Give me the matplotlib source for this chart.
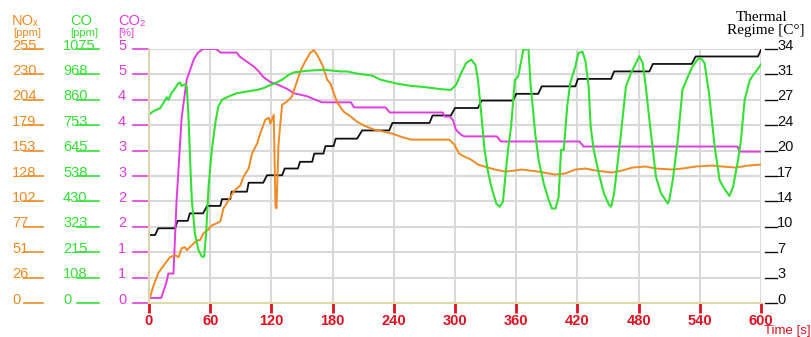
import matplotlib
matplotlib.use("Agg")
import matplotlib.pyplot as plt
import matplotlib.transforms as mtransforms

plt.rcParams['font.family'] = ['Liberation Sans', 'DejaVu Sans']

# data (time in s)
co2_t = [0, 12, 17, 19, 24, 27, 32, 37, 44, 48, 53, 66, 70, 86, 89, 96, 103, 108, 112,
         119, 126, 135, 142, 155, 162, 170, 172, 198, 201, 232, 236, 288, 290, 295, 298,
         301, 306, 309, 341, 345, 422, 426, 577, 579, 600]
co2_pct = [0.1, 0.1, 0.4, 0.58, 0.58, 2.0, 3.65, 4.4, 4.8, 4.93, 5.0, 5.0, 4.93, 4.93, 4.85,
           4.75, 4.65, 4.55, 4.45, 4.35, 4.3, 4.22, 4.13, 4.07, 4.01, 3.95, 3.95, 3.95, 3.85,
           3.85, 3.75, 3.75, 3.67, 3.67, 3.6, 3.41, 3.31, 3.28, 3.28, 3.18, 3.18, 3.08, 3.08,
           2.98, 2.98]

nox_t = [0, 4, 9, 16, 20.6, 25.6, 29, 32, 35.4, 37, 42, 47, 50, 53.4, 58.4, 61.6, 66.5, 70,
         73, 78, 83, 89.5, 92.8, 97.7, 101, 106, 109, 114, 117.4, 119, 122.3, 124, 125, 127,
         130.5, 135, 140, 143.6, 148.5, 153.4, 158, 161.6, 165, 170, 174.8, 178, 184.6, 191,
         198, 204, 211, 221, 230.5, 238.6, 247, 256.7, 270, 283, 294.4, 299.4, 304, 309,
         315.7, 322.5, 329, 339, 349, 359, 365, 381, 398, 408, 418, 428, 437.5, 454, 464,
         474, 487, 497, 513, 523, 536, 552.5, 562, 575, 588, 600]
nox_ppm = [2.5, 16, 30, 40, 46, 48, 46, 55, 56, 53, 58, 63, 63, 70, 74, 78, 80, 82, 95, 103,
           112, 118, 127, 135, 150, 160, 170, 184, 186, 180, 189, 97, 95, 160, 199, 202, 207,
           218, 233, 243, 251, 254, 249, 239, 224, 220, 201, 192, 187, 182, 178, 174, 172,
           170, 167, 164, 164, 164, 164, 159, 150, 147, 144, 139, 137, 134, 132, 133, 134,
           132, 129, 130, 134, 135, 133, 131, 133, 136, 137, 135, 134, 135, 137, 138, 137,
           136, 138, 139]

co_t = [0, 4, 11, 16, 17.4, 19, 22, 25.6, 29, 30.5,
        32, 35.4, 37, 38.7, 40.3, 42, 45, 48.5, 51.8, 54,
        56, 58.4, 61.6, 65, 68, 71.5, 78, 86, 96, 106,
        112, 117, 124, 130.5, 137, 142, 155, 171.5, 188, 194,
        204, 219, 227, 243.6, 256.7, 270, 286, 296, 301, 306,
        311, 316, 320, 322.5, 326, 329, 332, 335.6, 340.5, 343.8,
        347, 348.7, 352, 355, 358.7, 362, 367, 372, 374, 378.6,
        382, 387, 392, 395, 398.6, 401.6, 404, 406.6, 410, 413,
        418, 421, 425, 428, 431, 433, 436, 441, 446, 451,
        453, 456, 459, 462.7, 467.6, 472.5, 477.5, 480.7, 484, 487,
        490.6, 494, 497, 502, 508.6, 510, 513.5, 518.4, 523, 528.4,
        533, 538, 541, 544.6, 549, 554.6, 559.4, 563, 569, 572.6,
        577.5, 580, 584, 589, 596, 600]
co_ppm = [797, 811, 825, 860, 871, 860, 888, 909, 931, 933,
          919, 925, 917, 789, 605, 435, 295, 224, 196, 196,
          295, 492, 648, 761, 832, 860, 874, 888, 895, 902,
          909, 919, 931, 945, 966, 976, 983, 987, 980, 980,
          971, 962, 945, 928, 919, 914, 905, 902, 923, 973,
          1016, 1030, 1008, 945, 789, 648, 563, 492, 421, 407,
          429, 506, 648, 747, 945, 959, 1072, 1075, 931, 718,
          605, 506, 435, 400, 400, 449, 648, 648, 832, 931,
          1002, 1058, 1064, 1022, 917, 747, 648, 548, 464, 415,
          407, 464, 577, 718, 917, 973, 1016, 1044, 1016, 917,
          775, 648, 534, 464, 421, 435, 520, 690, 902, 959,
          1002, 1032, 1036, 1016, 888, 662, 520, 491, 453, 491,
          605, 677, 860, 944, 986, 1010]

th_t = [0, 6, 9, 25.6, 28, 38, 40, 53, 57, 70, 71.5, 79.7, 81, 96, 97.7, 112, 115.7, 130.5,
        133, 146, 148, 160, 162, 171, 173, 181, 183, 204, 209, 235.5, 238.6, 275, 278, 296,
        300, 322.5, 326, 357, 360, 381.6, 385, 418, 420.5, 453, 456, 490.6, 494, 532, 536,
        597, 600]
th_c = [9.1, 9.1, 10.0, 10.0, 11.0, 11.0, 12.0, 12.0, 13.0, 13.0, 13.9, 13.9, 14.9, 14.9,
        16.1, 16.1, 17.1, 17.1, 18.0, 18.0, 18.9, 18.9, 20.0, 20.0, 21.0, 21.0, 22.0, 22.0,
        23.1, 23.1, 24.1, 24.1, 25.1, 25.1, 26.1, 26.1, 27.1, 27.1, 28.0, 28.0, 29.0, 29.0,
        30.0, 30.0, 31.0, 31.0, 32.0, 32.0, 33.0, 33.0, 33.9]

x_ticks = [0, 60, 120, 180, 240, 300, 360, 420, 480, 540, 600]
nox_labels = ["0", "26", "51", "77", "102", "128", "153", "179", "204", "230", "255"]
co_labels = ["0", "108", "215", "323", "430", "538", "645", "753", "860", "968", "1075"]
co2_labels = ["0", "1", "1", "2", "2", "3", "3", "4", "4", "5", "5"]
th_labels = ["0", "3", "7", "10", "14", "17", "20", "24", "27", "31", "34"]

NOX_MAX, CO_MAX, CO2_MAX, TH_MAX = 255, 1075, 5, 34

ORANGE = "#f08a24"
GREEN = "#33e033"
MAGENTA = "#e03ce0"
RED = "#e01020"

W, H = 812, 337
fig = plt.figure(figsize=(W / 100, H / 100), dpi=100)
ax = fig.add_axes([149 / W, 34 / H, 612 / W, 254 / H])

ax.plot(th_t, [v / TH_MAX * 10 for v in th_c], color="#111111", lw=1.3)
ax.plot(co2_t, [v / CO2_MAX * 10 for v in co2_pct], color=MAGENTA, lw=1.4)
ax.plot(nox_t, [v / NOX_MAX * 10 for v in nox_ppm], color=ORANGE, lw=1.4)
ax.plot(co_t, [v / CO_MAX * 10 for v in co_ppm], color=GREEN, lw=1.5)

ax.set_xlim(0, 600)
ax.set_ylim(0, 10)
ax.set_xticks(x_ticks)
ax.set_xticklabels([str(v) for v in x_ticks], color=RED, fontweight="bold", fontsize=10.5)
ax.set_yticks(range(11))
ax.set_yticklabels([])
ax.tick_params(axis="x", colors=RED, length=7, width=2, direction="out", pad=1)
ax.tick_params(axis="y", length=0)
ax.grid(color="#d9d9d9", lw=1.5)
ax.set_axisbelow(True)
for s in ["top", "right"]:
    ax.spines[s].set_visible(False)
ax.spines["bottom"].set_color("#dcdca8")
ax.spines["left"].set_color("#dcd4b0")
ax.spines["bottom"].set_linewidth(1.5)
ax.spines["left"].set_linewidth(1.5)

# left/right scale columns
blend = mtransforms.blended_transform_factory(fig.transFigure, ax.transData)
cols = [
    (nox_labels, ORANGE, 12, 24, 43),
    (co_labels, GREEN, 63, 77, 99),
    (co2_labels, MAGENTA, 118, 133, 149),
]
for labels, c, tx, l0, l1 in cols:
    for i, lab in enumerate(labels):
        ax.text(tx / W, i - 0.02, lab, color=c, fontsize=10.5, ha="left", va="baseline",
                transform=blend, clip_on=False)
        ax.plot([l0 / W, l1 / W], [i, i], color=c, lw=1.2, transform=blend, clip_on=False)
for i, lab in enumerate(th_labels):
    ax.text(777 / W, i - 0.02, lab, color="#111111", fontsize=10.5, ha="left", va="baseline",
            transform=blend, clip_on=False)
    ax.plot([765 / W, 777 / W], [i, i], color="#111111", lw=1.0, transform=blend, clip_on=False)

# headers
fig.text(12 / W, 1 - 25 / H, "NOₓ", color=ORANGE, fontsize=10.5, va="baseline")
fig.text(13 / W, 1 - 36 / H, "[ppm]", color=ORANGE, fontsize=8, va="baseline")
fig.text(70 / W, 1 - 25 / H, "CO", color=GREEN, fontsize=10.5, va="baseline")
fig.text(70 / W, 1 - 36 / H, "[ppm]", color=GREEN, fontsize=8, va="baseline")
fig.text(118 / W, 1 - 25 / H, "CO₂", color=MAGENTA, fontsize=10.5, va="baseline")
fig.text(118 / W, 1 - 36 / H, "[%]", color=MAGENTA, fontsize=8, va="baseline")
fig.text(762 / W, 1 - 21 / H, "Thermal", family="Liberation Serif",
         fontsize=11, ha="center", va="baseline")
fig.text(766 / W, 1 - 34 / H, "Regime [C°]", family="Liberation Serif",
         fontsize=11, ha="center", va="baseline")
fig.text(811 / W, 1 - 334 / H, "Time [s]", color=RED, fontsize=9.5, ha="right", va="baseline")

fig.savefig("out.png", dpi=100)
